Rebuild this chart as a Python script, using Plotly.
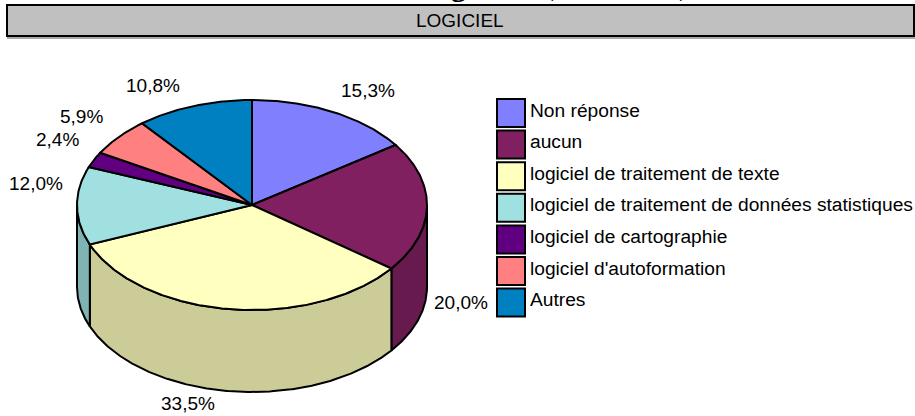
import numpy as np
import plotly.graph_objects as go

categories = ["Non réponse", "aucun", "logiciel de traitement de texte",
              "logiciel de traitement de données statistiques",
              "logiciel de cartographie", "logiciel d'autoformation", "Autres"]
values = [15.3, 20.0, 33.5, 12.0, 2.4, 5.9, 10.8]

top_colors = ["#8080FF", "#802060", "#FFFFC0", "#A0E0E0", "#600080", "#FF8080", "#0080C0"]
side_colors = ["#6666CC", "#661A4D", "#CCCC99", "#80B3B3", "#4D0066", "#CC6666", "#0066A0"]

# pie geometry, in page pixels
CX, CY, RX, RY, DEPTH = 252, 205, 175, 105, 82
label_pos = [(368, 90), (461, 302), (188, 403), (36, 183), (57, 139), (81, 116), (153, 85)]


def arc(a0, a1, dy=0):
    # clockwise from 12 o'clock, angles in degrees
    t = np.radians(np.linspace(a0, a1, max(int(abs(a1 - a0)) * 2, 2)))
    return CX + RX * np.sin(t), CY - RY * np.cos(t) + dy


def poly(x, y, fill, width=2):
    return go.Scatter(x=x, y=y, mode="lines", fill="toself", fillcolor=fill,
                      line=dict(color="black", width=width), hoverinfo="skip",
                      showlegend=False)


fig = go.Figure()

total = sum(values)
edges = np.concatenate([[0], np.cumsum(values) / total * 360])

# side walls first, only the front half is visible
for i in range(len(values)):
    a0, a1 = max(edges[i], 90), min(edges[i + 1], 270)
    if a0 >= a1:
        continue
    x0, y0 = arc(a0, a1)
    x1, y1 = arc(a1, a0, DEPTH)
    fig.add_trace(poly(list(x0) + list(x1) + [x0[0]], list(y0) + list(y1) + [y0[0]], side_colors[i]))

# top slices
for i in range(len(values)):
    x0, y0 = arc(edges[i], edges[i + 1])
    fig.add_trace(poly([CX] + list(x0) + [CX], [CY] + list(y0) + [CY], top_colors[i]))

annotations = []
for (x, y), v in zip(label_pos, values):
    annotations.append(dict(x=x, y=y, text=f"{v:.1f}%".replace(".", ","), showarrow=False,
                            xanchor="center", yanchor="middle"))

shapes = [
    dict(type="rect", x0=7, x1=915, y0=37, y1=39, fillcolor="#A8A8A8", line_width=0, layer="below"),
    dict(type="rect", x0=7, x1=914, y0=5, y1=36, fillcolor="#C0C0C0", line=dict(color="black", width=2)),
]

# legend
for i, name in enumerate(categories):
    y = 113 + i * 31.6
    shapes.append(dict(type="rect", x0=497, x1=525, y0=y - 14, y1=y + 14,
                       fillcolor=top_colors[i], line=dict(color="black", width=2)))
    annotations.append(dict(x=528, y=y - 3, text=name, showarrow=False,
                            xanchor="left", yanchor="middle", font=dict(size=19.2)))

annotations.append(dict(x=460, y=20.5, text="LOGICIEL", showarrow=False, xanchor="center",
                        yanchor="middle"))

# bottom of the page title, cut off by the top of the picture
for x, t in [(458, "g"), (549, "("), (684, ")")]:
    annotations.append(dict(x=x, y=0, yshift=15, text=f"<b>{t}</b>", showarrow=False, xanchor="center",
                            yanchor="middle",
                            font=dict(family="Liberation Serif", size=30, color="black")))

fig.update_layout(
    width=915, height=416, margin=dict(l=0, r=0, t=0, b=0),
    paper_bgcolor="white", plot_bgcolor="white",
    font=dict(family="Liberation Sans", size=19, color="black"),
    xaxis=dict(range=[0, 915], visible=False, fixedrange=True),
    yaxis=dict(range=[416, 0], visible=False, fixedrange=True),
    shapes=shapes, annotations=annotations, showlegend=False,
)

fig.write_html("out.html", config=dict(displayModeBar=False),
               post_script="document.body.style.margin='0';document.documentElement.style.overflow='hidden';")
